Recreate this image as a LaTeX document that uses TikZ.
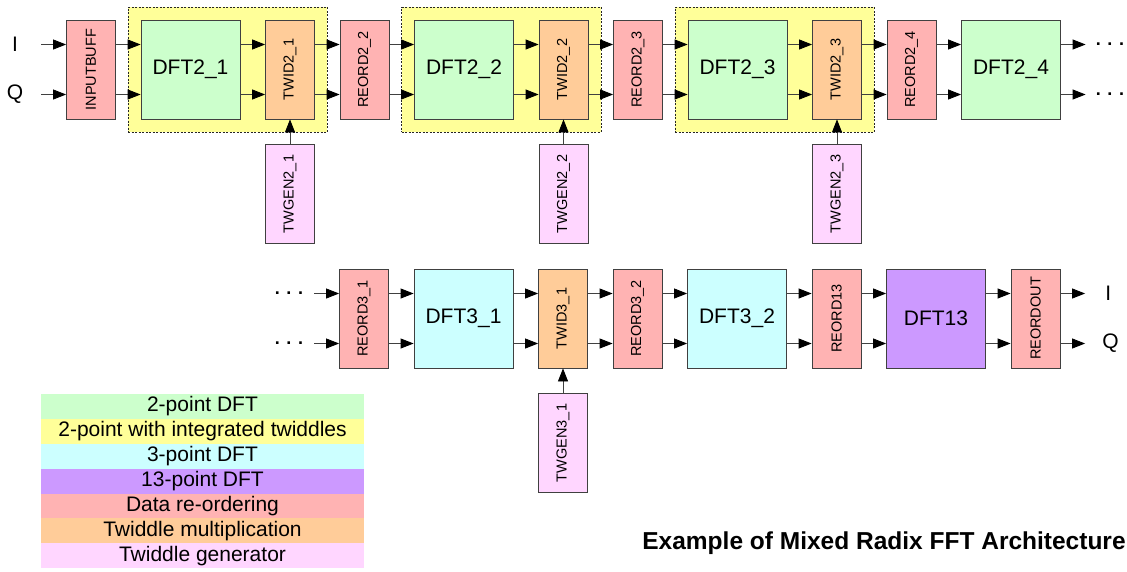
\documentclass[tikz,border=0pt]{standalone}
\usepackage{fontspec}
\setmainfont{Liberation Sans}
\usetikzlibrary{positioning, arrows.meta, fit, backgrounds}

\definecolor{dfttwo}{HTML}{CCFFCC}
\definecolor{grpyellow}{HTML}{FFFF99}
\definecolor{dftthree}{HTML}{CCFFFF}
\definecolor{dftthirteen}{HTML}{CC99FF}
\definecolor{reord}{HTML}{FFB3B3}
\definecolor{twid}{HTML}{FFCC99}
\definecolor{twgen}{HTML}{FFD6FF}
\definecolor{edge}{HTML}{404040}

\newcommand{\vlabel}[1]{\rotatebox{90}{#1}}

\begin{document}
\begin{tikzpicture}[
        x=1pt, y=-1pt,
        node distance=24.7pt,
        box/.style={rectangle, draw=edge, line width=0.8pt, minimum height=99pt, inner sep=0pt, align=center},
        big/.style={box, minimum width=99pt, font=\fontsize{21}{25}\selectfont},
        small/.style={box, minimum width=49pt, font=\fontsize{14.5}{17}\selectfont},
        grp/.style={draw=black!85, line width=0.8pt, dash pattern=on 2pt off 1.5pt, fill=grpyellow, inner sep=12.5pt},
        lbl/.style={font=\fontsize{21}{25}\selectfont, inner sep=0pt},
        dots/.style={font=\fontsize{18}{22}\selectfont\bfseries, inner sep=0pt},
        legend/.style={minimum width=323pt, minimum height=24.9pt, inner sep=0pt, font=\fontsize{21}{25}\selectfont},
        arrow/.style={-{Triangle[length=13pt, width=10pt, color=black]}, draw=edge, line width=0.8pt}
    ]

        \useasboundingbox (0,0) rectangle (1127,571);

        \node[small, fill=reord] (buff) at (91,69.5) {\vlabel{INPUTBUFF}};
        \node[big, fill=dfttwo, right=of buff] (dft21) {DFT2\_1};
        \node[small, fill=twid, right=of dft21] (twid21) {\vlabel{TWID2\_1}};
        \node[small, fill=reord, right=of twid21] (reord22) {\vlabel{REORD2\_2}};
        \node[big, fill=dfttwo, right=of reord22] (dft22) {DFT2\_2};
        \node[small, fill=twid, right=of dft22] (twid22) {\vlabel{TWID2\_2}};
        \node[small, fill=reord, right=of twid22] (reord23) {\vlabel{REORD2\_3}};
        \node[big, fill=dfttwo, right=of reord23] (dft23) {DFT2\_3};
        \node[small, fill=twid, right=of dft23] (twid23) {\vlabel{TWID2\_3}};
        \node[small, fill=reord, right=of twid23] (reord24) {\vlabel{REORD2\_4}};
        \node[big, fill=dfttwo, right=of reord24] (dft24) {DFT2\_4};

        \node[small, fill=twgen, below=of twid21] (twgen21) {\vlabel{TWGEN2\_1}};
        \node[small, fill=twgen, below=of twid22] (twgen22) {\vlabel{TWGEN2\_2}};
        \node[small, fill=twgen, below=of twid23] (twgen23) {\vlabel{TWGEN2\_3}};

        \begin{scope}[on background layer]
            \node[grp, fit=(dft21)(twid21)] (grp1) {};
            \node[grp, fit=(dft22)(twid22)] (grp2) {};
            \node[grp, fit=(dft23)(twid23)] (grp3) {};
        \end{scope}

        \node[small, fill=reord] (reord31) at (364,318.5) {\vlabel{REORD3\_1}};
        \node[big, fill=dftthree, right=of reord31] (dft31) {DFT3\_1};
        \node[small, fill=twid, right=of dft31] (twid31) {\vlabel{TWID3\_1}};
        \node[small, fill=reord, right=of twid31] (reord32) {\vlabel{REORD3\_2}};
        \node[big, fill=dftthree, right=of reord32] (dft32) {DFT3\_2};
        \node[small, fill=reord, right=of dft32] (reord13) {\vlabel{REORD13}};
        \node[big, fill=dftthirteen, right=of reord13] (dft13) {DFT13};
        \node[small, fill=reord, right=of dft13] (reordout) {\vlabel{REORDOUT}};
        \node[small, fill=twgen, below=of twid31] (twgen31) {\vlabel{TWGEN3\_1}};

        \foreach \a/\b in {buff/dft21, dft21/twid21, twid21/reord22, reord22/dft22, dft22/twid22, twid22/reord23,
                reord23/dft23, dft23/twid23, twid23/reord24, reord24/dft24, reord31/dft31, dft31/twid31,
                twid31/reord32, reord32/dft32, dft32/reord13, reord13/dft13, dft13/reordout} {
            \draw[arrow] ([yshift=25pt]\a.east) -- ([yshift=25pt]\b.west);
            \draw[arrow] ([yshift=-25pt]\a.east) -- ([yshift=-25pt]\b.west);
        }
        \foreach \g/\t in {twgen21/twid21, twgen22/twid22, twgen23/twid23, twgen31/twid31}
            \draw[arrow] (\g) -- (\t);

        \node[lbl] (inI) at (15,44.5) {I};
        \node[lbl] (inQ) at (15,94.5) {Q};
        \coordinate (srcI) at (41,44.5);
        \coordinate (srcQ) at (41,94.5);
        \draw[arrow] (srcI) -- (srcI -| buff.west);
        \draw[arrow] (srcQ) -- (srcQ -| buff.west);

        \draw[arrow] ([yshift=25pt]dft24.east) -- ++(24.7,0) coordinate (contI);
        \draw[arrow] ([yshift=-25pt]dft24.east) -- ++(24.7,0) coordinate (contQ);
        \node[dots, right=10pt of contI] (dotsI) {. . .};
        \node[dots, right=10pt of contQ] (dotsQ) {. . .};

        \node[dots] (moreI) at (289,293.5) {. . .};
        \node[dots] (moreQ) at (289,343.5) {. . .};
        \coordinate (srcI3) at (314,293.5);
        \coordinate (srcQ3) at (314,343.5);
        \draw[arrow] (srcI3) -- (srcI3 -| reord31.west);
        \draw[arrow] (srcQ3) -- (srcQ3 -| reord31.west);

        \draw[arrow] ([yshift=25pt]reordout.east) -- ++(24.7,0) coordinate (outI);
        \draw[arrow] ([yshift=-25pt]reordout.east) -- ++(24.7,0) coordinate (outQ);
        \node[lbl, right=20pt of outI] (lblI) {I};
        \node[lbl, right=17pt of outQ] (lblQ) {Q};

        \foreach \c/\t [count=\i] in {dfttwo/2-point DFT, grpyellow/2-point with integrated twiddles,
                dftthree/3-point DFT, dftthirteen/13-point DFT, reord/Data re-ordering,
                twid/Twiddle multiplication, twgen/Twiddle generator}
            \node[legend, fill=\c] (leg\i) at (202.5,{381.5+24.9*\i}) {\t};

        \node[font=\fontsize{24.5}{29}\selectfont\bfseries] (title) at (884,543) {Example of Mixed Radix FFT Architecture};

    \end{tikzpicture}
\end{document}
